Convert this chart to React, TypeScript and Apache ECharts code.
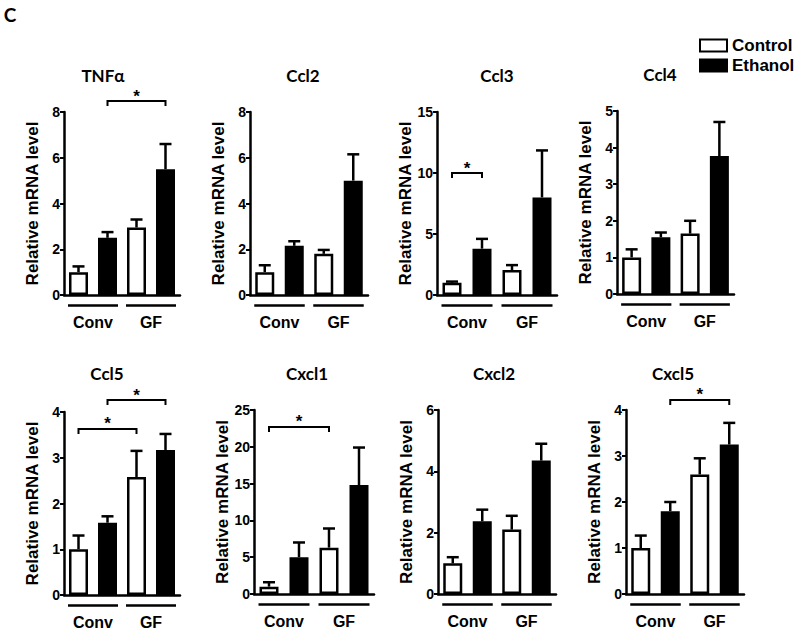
import React, { useEffect, useRef } from "react";
import * as echarts from "echarts";

// ---- data ----
const categories = ["Conv Control", "Conv Ethanol", "GF Control", "GF Ethanol"];
const groupLabels = ["Conv", "GF"];
const groupSpans = [[0, 1], [2, 3]];
const seriesNames = ["Control", "Ethanol"];
const panelTitles = ["TNFα", "Ccl2", "Ccl3", "Ccl4", "Ccl5", "Cxcl1", "Cxcl2", "Cxcl5"];
const yAxisName = "Relative mRNA level";

const tnfMeans = [1.0, 2.5, 2.95, 5.5];
const tnfErr = [1.25, 2.75, 3.3, 6.6];
const ccl2Means = [1.0, 2.15, 1.8, 5.0];
const ccl2Err = [1.3, 2.35, 1.97, 6.15];
const ccl3Means = [1.0, 3.8, 2.05, 8.0];
const ccl3Err = [1.1, 4.6, 2.45, 11.85];
const ccl4Means = [1.0, 1.55, 1.65, 3.77];
const ccl4Err = [1.22, 1.68, 2.0, 4.7];
const ccl5Means = [1.0, 1.58, 2.58, 3.17];
const ccl5Err = [1.3, 1.72, 3.15, 3.52];
const cxcl1Means = [1.0, 5.0, 6.3, 14.8];
const cxcl1Err = [1.6, 7.0, 8.9, 19.9];
const cxcl2Means = [1.0, 2.37, 2.1, 4.35];
const cxcl2Err = [1.2, 2.75, 2.55, 4.9];
const cxcl5Means = [1.0, 1.8, 2.6, 3.25];
const cxcl5Err = [1.27, 2.0, 2.95, 3.72];

const panelMeans = [tnfMeans, ccl2Means, ccl3Means, ccl4Means, ccl5Means, cxcl1Means, cxcl2Means, cxcl5Means];
const panelErrors = [tnfErr, ccl2Err, ccl3Err, ccl4Err, ccl5Err, cxcl1Err, cxcl2Err, cxcl5Err];
const yMax = [8, 8, 15, 5, 4, 25, 6, 4];
const yInterval = [2, 2, 5, 1, 1, 5, 2, 1];
// [fromBar, toBar, yLevel]
const significance = [
  [[1, 3, 8.48]],
  [],
  [[0, 1, 10.0]],
  [],
  [[0, 2, 3.63], [1, 3, 4.26]],
  [[0, 2, 22.7]],
  [],
  [[1, 3, 4.22]],
];

// ---- layout ----
const grids = [
  { left: 64, top: 112, width: 116, height: 183 },
  { left: 250, top: 112, width: 118, height: 183 },
  { left: 437, top: 112, width: 120, height: 183 },
  { left: 617, top: 111, width: 117, height: 183 },
  { left: 64, top: 412, width: 116, height: 183 },
  { left: 254, top: 410, width: 120, height: 184 },
  { left: 438, top: 410, width: 118, height: 184 },
  { left: 626, top: 410, width: 118, height: 184 },
];
const titlePos = [
  [103, 75], [303, 75], [497, 75], [660, 74],
  [107, 373], [307, 373], [494, 373], [673, 373],
];

const ARIAL = "'Liberation Sans', Arial, sans-serif";
const CALIBRI = "Lato, 'Open Sans', sans-serif";
const BAR_W = 19;
const HALF_BAR = 10.5;

export default function App() {
  const ref = useRef<HTMLDivElement>(null);

  useEffect(() => {
    if (!ref.current) return;
    const chart = echarts.init(ref.current, null, { renderer: "svg" });

    const xAxis: any[] = [];
    const yAxis: any[] = [];
    const series: any[] = [];

    grids.forEach((g, i) => {
      xAxis.push({
        type: "category",
        gridIndex: i,
        data: categories,
        axisLine: { lineStyle: { color: "#000", width: 2.5 } },
        axisTick: { show: false },
        axisLabel: { show: false },
        splitLine: { show: false },
      });
      yAxis.push({
        type: "value",
        gridIndex: i,
        min: 0,
        max: yMax[i],
        interval: yInterval[i],
        name: yAxisName,
        nameLocation: "middle",
        nameGap: 23,
        nameTextStyle: { color: "#000", fontFamily: ARIAL, fontWeight: "bold", fontSize: 17 },
        axisLine: { show: true, lineStyle: { color: "#000", width: 2.5 } },
        axisTick: { show: true, length: 4, lineStyle: { color: "#000", width: 2 } },
        axisLabel: { color: "#000", fontFamily: ARIAL, fontWeight: "bold", fontSize: 14, margin: 4 },
        splitLine: { show: false },
      });

      const m = panelMeans[i];
      const e = panelErrors[i];
      series.push({
        name: seriesNames[0],
        type: "bar",
        xAxisIndex: i,
        yAxisIndex: i,
        stack: "s" + i,
        barWidth: BAR_W,
        data: m.map((v, k) => (k % 2 === 0 ? v : "-")),
        itemStyle: { color: "#fff", borderColor: "#000", borderWidth: 2.5 },
        z: 2,
      });
      series.push({
        name: seriesNames[1],
        type: "bar",
        xAxisIndex: i,
        yAxisIndex: i,
        stack: "s" + i,
        barWidth: BAR_W,
        data: m.map((v, k) => (k % 2 === 1 ? v : "-")),
        itemStyle: { color: "#000", borderColor: "#000", borderWidth: 2.5 },
        z: 2,
      });
      // error bars
      series.push({
        type: "custom",
        xAxisIndex: i,
        yAxisIndex: i,
        z: 3,
        data: m.map((v, k) => [k, v, e[k]]),
        encode: { x: 0, y: 2 },
        renderItem: (params: any, api: any) => {
          const k = api.value(0);
          const p0 = api.coord([k, api.value(1)]);
          const p1 = api.coord([k, api.value(2)]);
          return {
            type: "group",
            children: [
              { type: "line", shape: { x1: p0[0], y1: p0[1], x2: p1[0], y2: p1[1] }, style: { stroke: "#000", lineWidth: 2.5 } },
              { type: "line", shape: { x1: p1[0] - 6, y1: p1[1], x2: p1[0] + 6, y2: p1[1] }, style: { stroke: "#000", lineWidth: 2.5 } },
            ],
          };
        },
      });
      // significance brackets
      if (significance[i].length) {
        series.push({
          type: "custom",
          xAxisIndex: i,
          yAxisIndex: i,
          z: 4,
          clip: false,
          data: significance[i],
          encode: { x: 0, y: 2 },
          renderItem: (params: any, api: any) => {
            const a = api.coord([api.value(0), api.value(2)]);
            const b = api.coord([api.value(1), api.value(2)]);
            const y = a[1];
            return {
              type: "group",
              children: [
                {
                  type: "polyline",
                  shape: { points: [[a[0], y + 5], [a[0], y], [b[0], y], [b[0], y + 5]] },
                  style: { stroke: "#000", lineWidth: 2, fill: "none" },
                },
                {
                  type: "text",
                  x: (a[0] + b[0]) / 2,
                  y: y - 5,
                  style: {
                    text: "*",
                    fill: "#000",
                    fontFamily: ARIAL,
                    fontWeight: "bold",
                    fontSize: 17,
                    textAlign: "center",
                    textVerticalAlign: "middle",
                  },
                },
              ],
            };
          },
        });
      }
      // group lines and labels
      series.push({
        type: "custom",
        xAxisIndex: i,
        yAxisIndex: i,
        z: 4,
        clip: false,
        data: groupSpans,
        encode: { x: 0 },
        renderItem: (params: any, api: any) => {
          const a = api.coord([api.value(0), 0]);
          const b = api.coord([api.value(1), 0]);
          const x1 = a[0] - HALF_BAR;
          const x2 = b[0] + HALF_BAR;
          const y0 = a[1];
          return {
            type: "group",
            children: [
              { type: "line", shape: { x1, y1: y0 + 10.5, x2, y2: y0 + 10.5 }, style: { stroke: "#000", lineWidth: 2.5 } },
              {
                type: "text",
                x: (x1 + x2) / 2,
                y: y0 + 27,
                style: {
                  text: groupLabels[params.dataIndex],
                  fill: "#000",
                  fontFamily: ARIAL,
                  fontWeight: "bold",
                  fontSize: 16,
                  textAlign: "center",
                  textVerticalAlign: "middle",
                },
              },
            ],
          };
        },
      });
    });

    const graphic: any[] = [
      {
        type: "text",
        x: 10,
        y: 14,
        style: {
          text: "C",
          fill: "#000",
          fontFamily: CALIBRI,
          fontWeight: "bold",
          fontSize: 19,
          textAlign: "center",
          textVerticalAlign: "middle",
        },
      },
      ...panelTitles.map((t, i) => ({
        type: "text",
        x: titlePos[i][0],
        y: titlePos[i][1],
        style: {
          text: t,
          fill: "#000",
          fontFamily: CALIBRI,
          fontWeight: "bold",
          fontSize: 17,
          textAlign: "center",
          textVerticalAlign: "middle",
        },
      })),
    ];

    chart.setOption({
      animation: false,
      backgroundColor: "#fff",
      grid: grids.map((g) => ({ ...g, containLabel: false })),
      xAxis,
      yAxis,
      series,
      graphic,
      legend: {
        data: seriesNames,
        orient: "vertical",
        left: 699,
        top: 37,
        padding: 0,
        itemWidth: 27,
        itemHeight: 12,
        itemGap: 3,
        icon: "rect",
        selectedMode: false,
        textStyle: { color: "#000", fontFamily: ARIAL, fontWeight: "bold", fontSize: 17 },
      },
    });

    return () => chart.dispose();
  }, []);

  return (
    <div
      ref={ref}
      style={{ position: "absolute", left: 0, top: 0, width: 800, height: 633, background: "#fff" }}
    />
  );
}
